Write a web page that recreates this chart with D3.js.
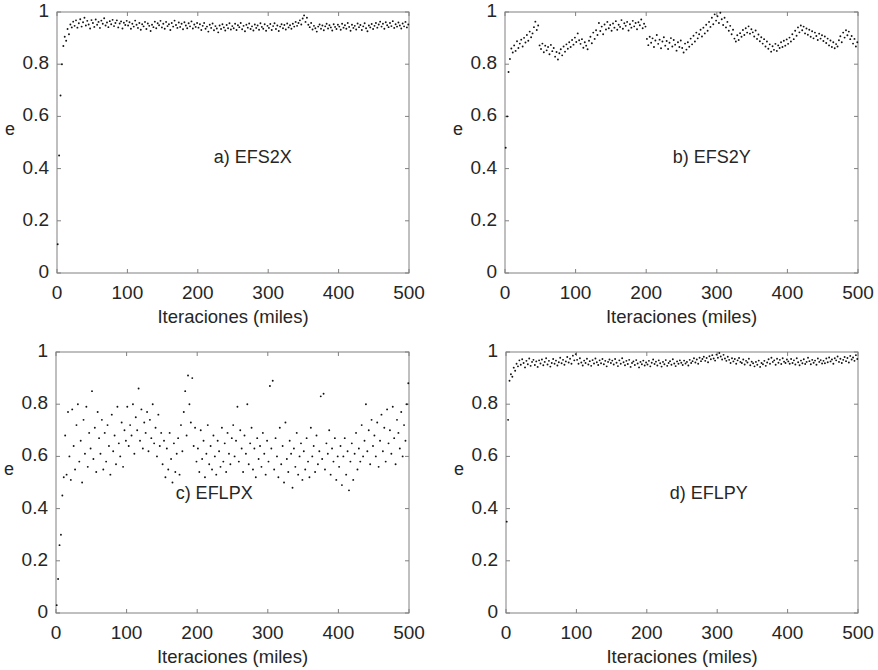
<!DOCTYPE html>
<html lang="es">
<head>
<meta charset="UTF-8">
<title>Eficiencia vs iteraciones</title>
<script src="https://d3js.org/d3.v7.min.js"></script>
<style>
  body { margin: 0; background: #fff; }
  svg text { font-family: "Liberation Sans", Arial, Helvetica, sans-serif; fill: #262626; }
</style>
</head>
<body>
<div id="chart"></div>
<script>
// iteraciones (miles) -- one sample every 2k iterations
const iteraciones = d3.range(1, 500, 2);
const xTicks = [0, 100, 200, 300, 400, 500];
const yTicks = [0, 0.2, 0.4, 0.6, 0.8, 1];
const xLabel = "Iteraciones (miles)";
const yLabel = "e";

const efs2x = [
  0.11, 0.45, 0.68, 0.80, 0.87, 0.905, 0.89, 0.935, 0.915, 0.952, 0.941, 0.963, 0.947, 0.968, 0.94, 0.957, 0.972, 0.944, 0.961, 0.978, 0.948, 0.966, 0.952, 0.937, 0.969,
  0.958, 0.943, 0.971, 0.951, 0.962, 0.939, 0.967, 0.955, 0.976, 0.948, 0.96, 0.942, 0.965, 0.953, 0.97, 0.946, 0.958, 0.968, 0.941, 0.956, 0.964, 0.937, 0.959, 0.95, 0.966,
  0.948, 0.961, 0.936, 0.955, 0.944, 0.967, 0.951, 0.939, 0.958, 0.932, 0.953, 0.945, 0.962, 0.935, 0.956, 0.947, 0.927, 0.951, 0.942, 0.963, 0.938, 0.957, 0.949, 0.966, 0.941,
  0.955, 0.936, 0.962, 0.946, 0.953, 0.931, 0.958, 0.944, 0.967, 0.95, 0.939, 0.96, 0.943, 0.955, 0.934, 0.961, 0.948, 0.938, 0.957, 0.945, 0.964, 0.937, 0.952, 0.943, 0.958,
  0.94, 0.953, 0.931, 0.947, 0.958, 0.936, 0.944, 0.925, 0.951, 0.939, 0.956, 0.93, 0.946, 0.937, 0.922, 0.948, 0.935, 0.953, 0.941, 0.929, 0.95, 0.938, 0.957, 0.933, 0.946,
  0.938, 0.955, 0.931, 0.949, 0.942, 0.958, 0.934, 0.947, 0.926, 0.951, 0.94, 0.956, 0.935, 0.945, 0.929, 0.952, 0.939, 0.948, 0.932, 0.957, 0.943, 0.936, 0.953, 0.928, 0.947,
  0.939, 0.954, 0.931, 0.946, 0.957, 0.935, 0.948, 0.927, 0.944, 0.953, 0.938, 0.95, 0.933, 0.956, 0.941, 0.949, 0.936, 0.955, 0.944, 0.962, 0.947, 0.958, 0.968, 0.952, 0.975,
  0.987, 0.962, 0.978, 0.951, 0.942, 0.958, 0.933, 0.947, 0.938, 0.925, 0.944, 0.952, 0.936, 0.948, 0.93, 0.945, 0.955, 0.937, 0.949, 0.941, 0.929, 0.953, 0.943, 0.935, 0.951,
  0.944, 0.932, 0.955, 0.94, 0.949, 0.936, 0.958, 0.943, 0.928, 0.951, 0.939, 0.947, 0.933, 0.956, 0.942, 0.95, 0.931, 0.945, 0.957, 0.938, 0.926, 0.948, 0.941, 0.954, 0.935,
  0.947, 0.958, 0.94, 0.952, 0.963, 0.944, 0.955, 0.936, 0.961, 0.949, 0.942, 0.958, 0.946, 0.965, 0.939, 0.953, 0.944, 0.96, 0.948, 0.937, 0.956, 0.945, 0.962, 0.941, 0.952
];

const efs2y = [
  0.48, 0.60, 0.77, 0.82, 0.86, 0.845, 0.872, 0.851, 0.888, 0.862, 0.879, 0.894, 0.868, 0.901, 0.883, 0.912, 0.89, 0.925, 0.903, 0.918, 0.942, 0.963, 0.931, 0.948, 0.872,
  0.858, 0.879, 0.846, 0.871, 0.853, 0.866, 0.838, 0.874, 0.85, 0.862, 0.829, 0.847, 0.818, 0.842, 0.857, 0.834, 0.868, 0.848, 0.876, 0.859, 0.884, 0.866, 0.893, 0.875, 0.902,
  0.885, 0.918, 0.892, 0.878, 0.896, 0.863, 0.884, 0.871, 0.857, 0.89, 0.905, 0.88, 0.921, 0.897, 0.93, 0.912, 0.958, 0.927, 0.944, 0.915, 0.952, 0.933, 0.962, 0.938, 0.95,
  0.928, 0.956, 0.94, 0.965, 0.932, 0.951, 0.943, 0.969, 0.936, 0.957, 0.947, 0.962, 0.929, 0.953, 0.94, 0.966, 0.945, 0.958, 0.934, 0.961, 0.949, 0.971, 0.938, 0.955, 0.944,
  0.897, 0.873, 0.905, 0.882, 0.899, 0.866, 0.891, 0.912, 0.878, 0.894, 0.861, 0.887, 0.903, 0.871, 0.889, 0.858, 0.882, 0.9, 0.868, 0.893, 0.875, 0.852, 0.884, 0.866, 0.891,
  0.862, 0.845, 0.879, 0.856, 0.884, 0.867, 0.898, 0.876, 0.909, 0.887, 0.921, 0.899, 0.915, 0.932, 0.906, 0.94, 0.918, 0.951, 0.928, 0.962, 0.943, 0.978, 0.953, 0.991, 0.967,
  0.984, 0.958, 0.997, 0.972, 0.95, 0.978, 0.941, 0.962, 0.928, 0.947, 0.915, 0.932, 0.898, 0.887, 0.911, 0.893, 0.919, 0.905, 0.931, 0.912, 0.938, 0.921, 0.945, 0.917, 0.934,
  0.922, 0.906, 0.929, 0.897, 0.914, 0.888, 0.903, 0.879, 0.896, 0.868, 0.887, 0.859, 0.876, 0.848, 0.869, 0.855, 0.878, 0.851, 0.872, 0.862, 0.884, 0.866, 0.89, 0.871, 0.895,
  0.878, 0.902, 0.887, 0.915, 0.896, 0.928, 0.909, 0.941, 0.922, 0.948, 0.93, 0.944, 0.918, 0.937, 0.913, 0.932, 0.905, 0.926, 0.899, 0.921, 0.908, 0.893, 0.917, 0.898, 0.911,
  0.889, 0.906, 0.881, 0.898, 0.872, 0.891, 0.866, 0.884, 0.861, 0.877, 0.868, 0.892, 0.907, 0.884, 0.921, 0.902, 0.93, 0.911, 0.925, 0.896, 0.908, 0.879, 0.897, 0.868, 0.884
];

const eflpx = [
  0.03, 0.13, 0.26, 0.30, 0.45, 0.52, 0.68, 0.53, 0.77, 0.60, 0.51, 0.78, 0.64, 0.55, 0.72, 0.80, 0.58, 0.66, 0.50, 0.74, 0.61, 0.79, 0.56, 0.69, 0.63,
  0.85, 0.59, 0.71, 0.54, 0.77, 0.67, 0.61, 0.74, 0.55, 0.69, 0.58, 0.72, 0.64, 0.53, 0.76, 0.62, 0.68, 0.57, 0.79, 0.65, 0.60, 0.73, 0.56, 0.70, 0.66,
  0.79, 0.64, 0.72, 0.68, 0.80, 0.61, 0.75, 0.70, 0.86, 0.66, 0.78, 0.63, 0.73, 0.69, 0.77, 0.62, 0.74, 0.67, 0.80, 0.65, 0.71, 0.60, 0.76, 0.64, 0.69,
  0.57, 0.66, 0.52, 0.63, 0.55, 0.69, 0.59, 0.50, 0.65, 0.54, 0.61, 0.67, 0.53, 0.72, 0.62, 0.77, 0.85, 0.68, 0.91, 0.80, 0.73, 0.90, 0.64, 0.71, 0.58,
  0.63, 0.54, 0.70, 0.59, 0.66, 0.52, 0.61, 0.72, 0.57, 0.64, 0.55, 0.68, 0.60, 0.53, 0.66, 0.62, 0.56, 0.71, 0.58, 0.65, 0.54, 0.69, 0.61, 0.57, 0.67,
  0.72, 0.60, 0.66, 0.79, 0.58, 0.70, 0.63, 0.54, 0.68, 0.61, 0.80, 0.57, 0.65, 0.71, 0.55, 0.63, 0.52, 0.67, 0.59, 0.64, 0.56, 0.69, 0.61, 0.53, 0.66,
  0.58, 0.87, 0.63, 0.89, 0.55, 0.67, 0.60, 0.52, 0.71, 0.57, 0.64, 0.50, 0.73, 0.59, 0.54, 0.66, 0.61, 0.48, 0.63, 0.56, 0.69, 0.53, 0.60, 0.65, 0.51,
  0.62, 0.55, 0.67, 0.58, 0.52, 0.71, 0.60, 0.64, 0.54, 0.68, 0.57, 0.62, 0.83, 0.59, 0.84, 0.55, 0.65, 0.61, 0.70, 0.53, 0.63, 0.58, 0.67, 0.51, 0.60,
  0.56, 0.64, 0.49, 0.60, 0.67, 0.53, 0.62, 0.47, 0.58, 0.65, 0.51, 0.61, 0.69, 0.55, 0.63, 0.58, 0.72, 0.60, 0.66, 0.80, 0.62, 0.70, 0.57, 0.74, 0.64,
  0.68, 0.60, 0.73, 0.56, 0.66, 0.76, 0.62, 0.71, 0.58, 0.78, 0.65, 0.70, 0.61, 0.79, 0.67, 0.57, 0.74, 0.69, 0.63, 0.77, 0.60, 0.72, 0.66, 0.80, 0.88
];

const eflpy = [
  0.35, 0.74, 0.89, 0.915, 0.905, 0.94, 0.928, 0.955, 0.945, 0.968, 0.951, 0.972, 0.958, 0.941, 0.966, 0.953, 0.975, 0.947, 0.962, 0.97, 0.95, 0.964, 0.943, 0.968, 0.956,
  0.971, 0.949, 0.962, 0.976, 0.952, 0.966, 0.944, 0.958, 0.973, 0.955, 0.967, 0.948, 0.961, 0.978, 0.957, 0.97, 0.951, 0.964, 0.981, 0.96, 0.974, 0.955, 0.986, 0.968, 0.992,
  0.97, 0.955, 0.976, 0.96, 0.948, 0.967, 0.958, 0.974, 0.952, 0.965, 0.947, 0.969, 0.956, 0.975, 0.961, 0.95, 0.968, 0.957, 0.973, 0.953, 0.966, 0.945, 0.962, 0.971, 0.958,
  0.967, 0.952, 0.973, 0.959, 0.946, 0.968, 0.955, 0.976, 0.961, 0.949, 0.966, 0.954, 0.97, 0.943, 0.958, 0.964, 0.95, 0.969, 0.956, 0.941, 0.962, 0.953, 0.967, 0.948, 0.96,
  0.952, 0.966, 0.945, 0.959, 0.971, 0.954, 0.963, 0.948, 0.968, 0.957, 0.944, 0.962, 0.953, 0.969, 0.947, 0.958, 0.965, 0.951, 0.972, 0.956, 0.946, 0.964, 0.955, 0.968, 0.959,
  0.95, 0.967, 0.956, 0.962, 0.948, 0.97, 0.958, 0.965, 0.976, 0.96, 0.971, 0.955, 0.978, 0.965, 0.973, 0.982, 0.966, 0.977, 0.961, 0.984, 0.972, 0.988, 0.975, 0.967, 0.99,
  0.978, 0.996, 0.983, 0.971, 0.989, 0.975, 0.966, 0.982, 0.97, 0.958, 0.976, 0.964, 0.973, 0.955, 0.968, 0.977, 0.962, 0.958, 0.971, 0.952, 0.966, 0.96, 0.974, 0.949, 0.963,
  0.957, 0.945, 0.962, 0.951, 0.967, 0.943, 0.958, 0.953, 0.966, 0.947, 0.96, 0.972, 0.955, 0.978, 0.962, 0.968, 0.951, 0.974, 0.959, 0.97, 0.954, 0.976, 0.963, 0.958, 0.971,
  0.964, 0.955, 0.973, 0.958, 0.968, 0.952, 0.976, 0.961, 0.949, 0.967, 0.957, 0.972, 0.954, 0.962, 0.978, 0.965, 0.953, 0.97, 0.959, 0.967, 0.951, 0.975, 0.962, 0.969, 0.956,
  0.966, 0.957, 0.975, 0.961, 0.979, 0.964, 0.971, 0.955, 0.976, 0.968, 0.983, 0.962, 0.974, 0.958, 0.97, 0.981, 0.965, 0.977, 0.96, 0.985, 0.971, 0.979, 0.966, 0.988, 0.973
];

// panel boxes (pixels) and annotation position (data coords)
const panels = [
  { name: "a) EFS2X", values: efs2x, box: { x0: 57, x1: 409, y0: 12, y1: 273 }, label: [278, 0.44] },
  { name: "b) EFS2Y", values: efs2y, box: { x0: 505, x1: 858, y0: 12, y1: 273 }, label: [293, 0.44] },
  { name: "c) EFLPX", values: eflpx, box: { x0: 56, x1: 409, y0: 352, y1: 613 }, label: [224, 0.455] },
  { name: "d) EFLPY", values: eflpy, box: { x0: 506, x1: 858, y0: 352, y1: 613 }, label: [288, 0.455] }
];

const width = 878, height = 670;
const axisColor = "#808080";
const tickLen = 4;

const svg = d3.select("#chart").append("svg")
  .attr("width", width)
  .attr("height", height);

panels.forEach(p => {
  const b = p.box;
  const x = d3.scaleLinear().domain([0, 500]).range([b.x0, b.x1]);
  const y = d3.scaleLinear().domain([0, 1]).range([b.y1, b.y0]);
  const g = svg.append("g");

  // frame
  g.append("rect")
    .attr("x", b.x0).attr("y", b.y0)
    .attr("width", b.x1 - b.x0).attr("height", b.y1 - b.y0)
    .attr("fill", "none").attr("stroke", axisColor).attr("stroke-width", 1);

  // inward ticks on all four sides
  g.selectAll(".tx").data(xTicks).join("path")
    .attr("d", d => `M${x(d)},${b.y1}v${-tickLen}M${x(d)},${b.y0}v${tickLen}`)
    .attr("stroke", axisColor).attr("fill", "none");
  g.selectAll(".ty").data(yTicks).join("path")
    .attr("d", d => `M${b.x0},${y(d)}h${tickLen}M${b.x1},${y(d)}h${-tickLen}`)
    .attr("stroke", axisColor).attr("fill", "none");

  // tick labels
  g.selectAll(".lx").data(xTicks).join("text")
    .attr("x", d => x(d)).attr("y", b.y1 + 21)
    .attr("text-anchor", "middle")
    .attr("dominant-baseline", "middle")
    .style("font-size", "19px")
    .text(d => d);
  g.selectAll(".ly").data(yTicks).join("text")
    .attr("x", b.x0 - 8).attr("y", d => y(d))
    .attr("text-anchor", "end")
    .attr("dominant-baseline", "middle")
    .style("font-size", "19px")
    .text(d => d3.format("~g")(d));

  // axis titles
  g.append("text")
    .attr("x", (b.x0 + b.x1) / 2).attr("y", b.y1 + 45)
    .attr("text-anchor", "middle")
    .attr("dominant-baseline", "middle")
    .style("font-size", "18.5px")
    .text(xLabel);
  g.append("text")
    .attr("x", b.x0 - 52).attr("y", (b.y0 + b.y1) / 2 - 12)
    .attr("dominant-baseline", "middle")
    .style("font-size", "18px")
    .text(yLabel);

  // scatter
  g.selectAll("circle").data(p.values).join("circle")
    .attr("cx", (d, i) => x(iteraciones[i]))
    .attr("cy", d => y(d))
    .attr("r", 0.95)
    .attr("fill", "#111");

  // panel annotation
  g.append("text")
    .attr("x", x(p.label[0])).attr("y", y(p.label[1]))
    .attr("text-anchor", "middle")
    .attr("dominant-baseline", "middle")
    .style("font-size", "18px")
    .text(p.name);
});
</script>
</body>
</html>
